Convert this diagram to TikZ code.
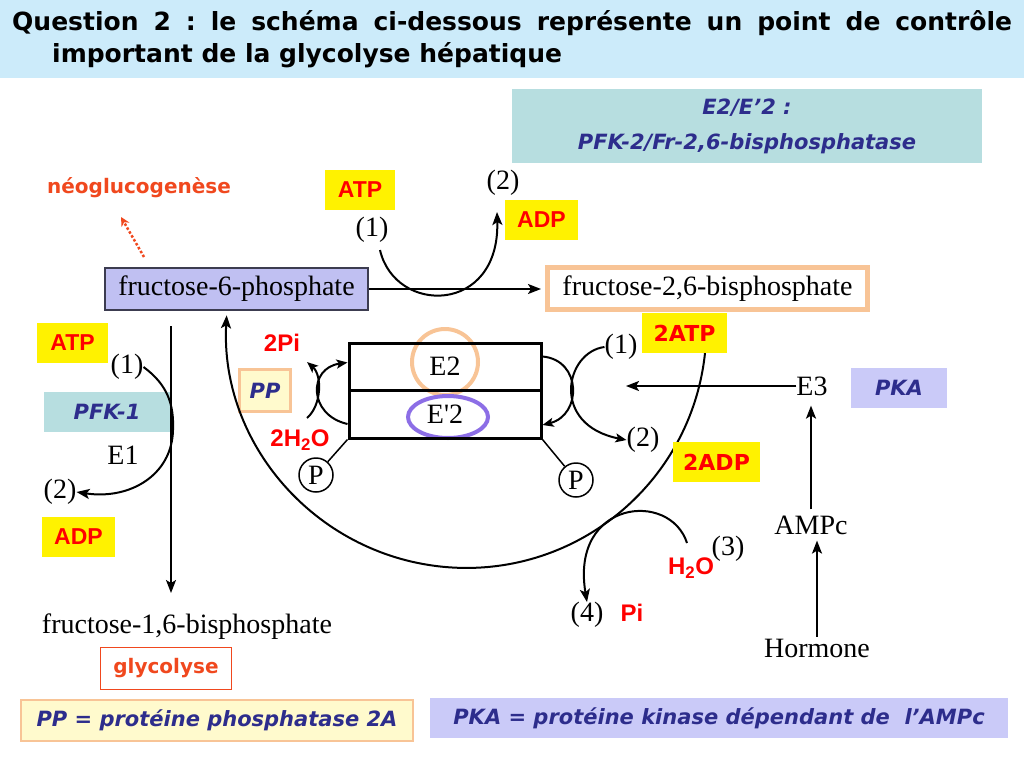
\documentclass[tikz,border=0pt]{standalone}
\usepackage{fontspec}
\setmainfont{Liberation Serif}
\newfontfamily\arialfont{Liberation Sans}
\newfontfamily\comicfont{DejaVu Sans}
\usepackage{tikz}
\usetikzlibrary{arrows.meta,positioning,calc}
\usepackage{xcolor}
\frenchspacing
\definecolor{titlebg}{RGB}{204,235,250}
\definecolor{tealbox}{RGB}{183,222,224}
\definecolor{lavbox}{RGB}{192,192,242}
\definecolor{pkabox}{RGB}{202,202,248}
\definecolor{boxgray}{RGB}{60,60,80}
\definecolor{navytext}{RGB}{45,45,140}
\definecolor{orangered}{RGB}{240,72,30}
\definecolor{peach}{RGB}{248,196,150}
\definecolor{ppfill}{RGB}{255,250,205}
\definecolor{purplering}{RGB}{140,110,230}
\tikzstyle{serif}=[font=\fontsize{28}{30}\selectfont, inner sep=0pt]
\tikzstyle{yellowbox}=[fill=yellow, text=red, font=\arialfont\bfseries\fontsize{23}{25}\selectfont, minimum height=40pt, inner sep=0pt]
\tikzstyle{comicbox}=[fill=yellow, text=red, font=\comicfont\bfseries\fontsize{22}{24}\selectfont, minimum height=40pt, inner sep=0pt]
\tikzstyle{redtxt}=[text=red, font=\arialfont\bfseries\fontsize{24}{26}\selectfont, inner sep=0pt]
\tikzstyle{navytxt}=[text=navytext, font=\comicfont\bfseries\itshape\fontsize{21}{24}\selectfont, inner sep=0pt]
\tikzstyle{rxn}=[line width=2pt, -{Stealth[length=13pt,width=10pt,inset=3pt]}]
\tikzstyle{kiss}=[line width=2pt, -{Stealth[length=11pt,width=9pt,inset=2.5pt]}]
\begin{document}
\begin{tikzpicture}[x=1pt,y=-1pt]
	\useasboundingbox (0,0) rectangle (1024,768);
	\fill[titlebg] (0,0) rectangle (1024,78);
	\node[anchor=base west, inner sep=0pt, font=\comicfont\bfseries\fontsize{25}{27}\selectfont] (title1) at (12,31) {\makebox[1000pt][s]{Question 2 : le schéma ci-dessous représente un point de contrôle}};
	\node[anchor=base west, inner sep=0pt, font=\comicfont\bfseries\fontsize{25}{27}\selectfont] (title2) at (52,63) {important de la glycolyse hépatique};
%
	\node[fill=tealbox, minimum width=470pt, minimum height=74pt, navytxt, align=center, font=\comicfont\bfseries\itshape\fontsize{21}{35}\selectfont] (e2leg) at (747,126) {E2/E’2 :\\PFK-2/Fr-2,6-bisphosphatase};
%
	\node[draw=boxgray, line width=1.2pt, fill=lavbox, minimum width=263pt, minimum height=42pt, serif] (f6p) at (236.5,289) {fructose-6-phosphate};
	\node[draw=peach, line width=5pt, fill=white, minimum width=320pt, minimum height=42pt, serif] (f26) at (707.5,288.5) {fructose-2,6-bisphosphate};
	\draw[rxn, shorten >=4pt] (f6p.east) -- (f6p.east -| f26.west);
%
	\node[yellowbox, minimum width=70pt] (atptop) at (360,190) {ATP};
	\node[serif] (onetop) at (372,230) {(1)};
	\node[serif] (twotop) at (503,183) {(2)};
	\node[yellowbox, minimum width=73pt] (adptop) at (541.5,220) {ADP};
	\coordinate (toptail) at (380,250);
	\coordinate (tophead) at (497,212);
	\draw[rxn] (toptail) .. controls (395,315) and (500,315) .. (tophead);
%
	\node[font=\comicfont\bfseries\fontsize{20}{24}\selectfont, text=orangered, inner sep=0pt] (neo) at (139,188) {néoglucogenèse};
	\coordinate (neotail) at (144,257);
	\coordinate (neohead) at (121,217);
	\draw[orangered, line width=2.5pt, dash pattern=on 2.5pt off 2pt, -{Stealth[length=9pt,width=9pt]}] (neotail) -- (neohead);
%
	\node[yellowbox, minimum width=71pt] (atpleft) at (72.5,343) {ATP};
	\node[serif] (oneleft) at (127,367) {(1)};
	\node[fill=tealbox, minimum width=126pt, minimum height=40pt, navytxt] (pfk1) at (107,412) {PFK-1};
	\node[serif] (e1) at (123,455) {E1};
	\node[serif] (twoleft) at (60,492) {(2)};
	\node[yellowbox, minimum width=73pt] (adpleft) at (78.5,537) {ADP};
	\node[serif] (f16) at (187,627) {fructose-1,6-bisphosphate};
	\node[draw=orangered, line width=1pt, minimum width=131pt, minimum height=42pt, font=\comicfont\bfseries\fontsize{20}{24}\selectfont, text=orangered] (glyco) at (166,668) {glycolyse};
	\coordinate (pfktail) at (171,326);
	\coordinate (pfkhead) at (171,593);
	\draw[rxn, line width=1.6pt] (pfktail) -- (pfkhead);
	\draw[rxn] (oneleft.east) .. controls (168,385) and (174,405) .. (173,430) .. controls (172,475) and (130,500) .. (twoleft.east);
%
	\draw[peach, line width=4pt] (445,362) circle[radius=33];
	\draw[purplering, line width=4pt] (448,417) ellipse[x radius=40, y radius=21];
	\node[draw, line width=3pt, minimum width=192pt, minimum height=47pt, serif] (e2) at (445,366.5) {E2};
	\node[draw, line width=3pt, minimum width=192pt, minimum height=48pt, serif] (e2p) at (445,414) {E\textquotesingle 2};
	\node[draw, circle, line width=1.5pt, minimum size=34pt, serif] (pleft) at (316,475) {P};
	\node[draw, circle, line width=1.5pt, minimum size=34pt, serif] (pright) at (576,480) {P};
	\draw[line width=1.5pt] (e2p.south west) -- (pleft);
	\draw[line width=1.5pt] (e2p.south east) -- (pright);
%
	\node[redtxt] (twopi) at (282,343) {2Pi};
	\node[draw=peach, line width=3pt, fill=ppfill, minimum width=51pt, minimum height=42pt, navytxt] (pp) at (265,390.5) {PP};
	\node[redtxt] (twoh2o) at (300,440) {2H\textsubscript{2}O};
	\coordinate (wtail) at (307,418);
	\coordinate (whead) at (307,362);
	\draw[kiss] (wtail) .. controls (322,405) and (322,375) .. (whead);
	\draw[kiss] ($(e2p.west)+(0,10)$) .. controls (308,415) and (308,368) .. ($(e2.west)+(0,-4)$);
%
	\node[serif] (oneright) at (621,347) {(1)};
	\node[serif] (tworight) at (643,440) {(2)};
	\draw[kiss] (oneright.west) .. controls (565,352) and (550,425) .. (tworight.west);
	\draw[kiss] ($(e2.east)+(0,-10)$) .. controls (582,360) and (582,415) .. ($(e2p.east)+(0,11)$);
%
	\coordinate (bigtail) at (705,353);
	\draw[rxn] (bigtail) arc[start angle=6, end angle=183, radius=240];
	\node[comicbox, minimum width=85pt] (atpright) at (684.5,333) {2ATP};
	\node[comicbox, minimum width=87pt] (adpright) at (716.5,462) {2ADP};
%
	\node[serif] (e3) at (812,386) {E3};
	\coordinate (e3head) at (626,386);
	\draw[rxn] (e3.west) -- (e3head);
	\node[fill=pkabox, minimum width=96pt, minimum height=40pt, navytxt] (pka) at (899,388) {PKA};
	\node[serif] (ampc) at (811,525) {AMPc};
	\node[serif] (hormone) at (817,648) {Hormone};
	\draw[rxn, shorten <=6pt, shorten >=10pt] (ampc.north) -- (ampc.north |- e3.south);
	\draw[rxn, shorten <=2pt, shorten >=6pt] (hormone.north) -- (hormone.north |- ampc.south);
%
	\node[redtxt] (h2o) at (691,568) {H\textsubscript{2}O};
	\node[serif] (three) at (728,549) {(3)};
	\node[serif] (four) at (587,615) {(4)};
	\node[redtxt] (pi) at (632,613) {Pi};
	\coordinate (htail) at (687,543);
	\draw[rxn] (htail) .. controls (670,490) and (570,500) .. (four.north);
%
	\node[draw=peach, line width=1.5pt, fill=ppfill, minimum width=392pt, minimum height=41pt, navytxt] (ppleg) at (217,720.5) {PP = protéine phosphatase 2A};
	\node[fill=pkabox, minimum width=578pt, minimum height=40pt, navytxt] (pkaleg) at (719,718) {PKA = protéine kinase dépendant de~~l’AMPc};
\end{tikzpicture}
\end{document}
